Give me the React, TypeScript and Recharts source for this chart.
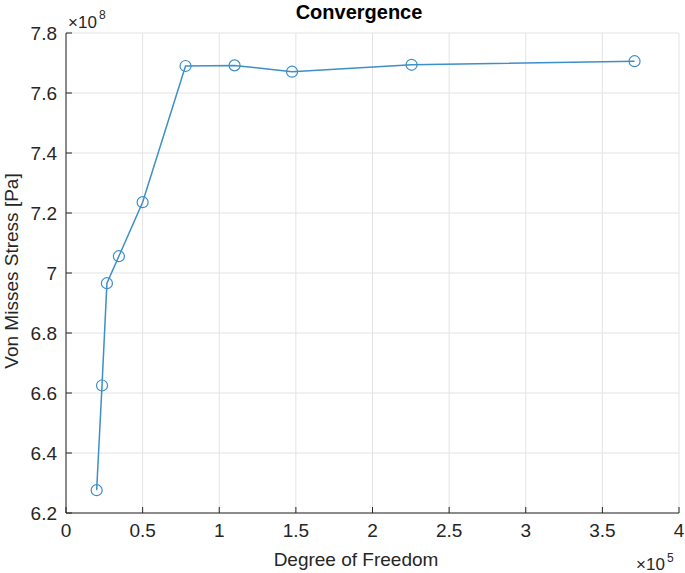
import React from 'react';
import { LineChart, Line, XAxis, YAxis, CartesianGrid } from 'recharts';

// Degree of freedom (×1e5) and von Mises stress (×1e8 Pa)
const dof = [0.2, 0.235, 0.267, 0.345, 0.5, 0.78, 1.1, 1.475, 2.255, 3.71];
const stress = [6.276, 6.625, 6.966, 7.056, 7.236, 7.69, 7.692, 7.671, 7.694, 7.706];
const xTicks = [0, 0.5, 1, 1.5, 2, 2.5, 3, 3.5, 4];
const yTicks = [6.2, 6.4, 6.6, 6.8, 7, 7.2, 7.4, 7.6, 7.8];

const data = dof.map((d, i) => ({ dof: d, stress: stress[i] }));

const FONT = '"Liberation Sans", Arial, Helvetica, sans-serif';
const INK = '#262626';
const LINE = '#3d8fc7';

const fmt = (v: number) => String(parseFloat(Number(v).toFixed(2)));

const BottomTick = (props: any) => {
  const { x, y, payload } = props;
  return (
    <g>
      <line x1={x} y1={y} x2={x} y2={y - 6} stroke={INK} strokeWidth={1} />
      <text x={x} y={y + 24} textAnchor="middle" fontSize={19} fontFamily={FONT} fill={INK}>
        {fmt(payload.value)}
      </text>
    </g>
  );
};

const LeftTick = (props: any) => {
  const { x, y, payload } = props;
  return (
    <g>
      <line x1={x} y1={y} x2={x + 6} y2={y} stroke={INK} strokeWidth={1} />
      <text x={x - 9} y={y + 7} textAnchor="end" fontSize={19} fontFamily={FONT} fill={INK}>
        {fmt(payload.value)}
      </text>
    </g>
  );
};

const TopTick = (props: any) => {
  const { x, y } = props;
  return <line x1={x} y1={y} x2={x} y2={y + 6} stroke={INK} strokeWidth={1} />;
};

const RightTick = (props: any) => {
  const { x, y } = props;
  return <line x1={x} y1={y} x2={x - 6} y2={y} stroke={INK} strokeWidth={1} />;
};

const Marker = (props: any) => {
  const { cx, cy } = props;
  if (cx == null || cy == null) return null;
  return <circle cx={cx} cy={cy} r={5.5} fill="none" stroke={LINE} strokeWidth={1.2} />;
};

export default function App() {
  return (
    <div style={{ position: 'absolute', left: 0, top: 0, width: 685, height: 573, background: '#fff' }}>
      <LineChart
        width={685}
        height={573}
        data={data}
        margin={{ top: 33, right: 6, left: 0, bottom: 0 }}
      >
        <CartesianGrid stroke="#e3e3e3" strokeWidth={1} />
        <XAxis
          dataKey="dof"
          type="number"
          domain={[0, 4]}
          ticks={xTicks}
          height={60}
          tickSize={0}
          tickMargin={0}
          tickLine={false}
          axisLine={{ stroke: INK, strokeWidth: 1 }}
          tick={<BottomTick />}
          interval={0}
        />
        <XAxis
          xAxisId="top"
          orientation="top"
          type="number"
          domain={[0, 4]}
          ticks={xTicks}
          height={0}
          mirror
          tickSize={0}
          tickMargin={0}
          tickLine={false}
          axisLine={{ stroke: INK, strokeWidth: 1 }}
          tick={<TopTick />}
          interval={0}
        />
        <YAxis
          type="number"
          domain={[6.2, 7.8]}
          ticks={yTicks}
          width={66}
          tickSize={0}
          tickMargin={0}
          tickLine={false}
          axisLine={{ stroke: INK, strokeWidth: 1 }}
          tick={<LeftTick />}
          interval={0}
        />
        <YAxis
          yAxisId="right"
          orientation="right"
          type="number"
          domain={[6.2, 7.8]}
          ticks={yTicks}
          width={0}
          mirror
          tickSize={0}
          tickMargin={0}
          tickLine={false}
          axisLine={{ stroke: INK, strokeWidth: 1 }}
          tick={<RightTick />}
          interval={0}
        />
        <Line
          type="linear"
          dataKey="stress"
          stroke={LINE}
          strokeWidth={1.5}
          dot={<Marker />}
          activeDot={false}
          isAnimationActive={false}
        />
      </LineChart>
      <svg
        width={685}
        height={573}
        style={{ position: 'absolute', left: 0, top: 0, pointerEvents: 'none' }}
      >
        <text x={359} y={19} textAnchor="middle" fontSize={20} fontWeight="bold" fontFamily={FONT} fill="#000">
          Convergence
        </text>
        <text x={356} y={566} textAnchor="middle" fontSize={19} fontFamily={FONT} fill={INK}>
          Degree of Freedom
        </text>
        <text
          x={18}
          y={271}
          textAnchor="middle"
          fontSize={19}
          fontFamily={FONT}
          fill={INK}
          transform="rotate(-90 18 271)"
        >
          Von Misses Stress [Pa]
        </text>
        <text x={68} y={28} fontSize={17} fontFamily={FONT} fill={INK}>
          ×10
        </text>
        <text x={99} y={19} fontSize={12} fontFamily={FONT} fill={INK}>
          8
        </text>
        <text x={636} y={570} fontSize={17} fontFamily={FONT} fill={INK}>
          ×10
        </text>
        <text x={667} y={562} fontSize={12} fontFamily={FONT} fill={INK}>
          5
        </text>
      </svg>
    </div>
  );
}
